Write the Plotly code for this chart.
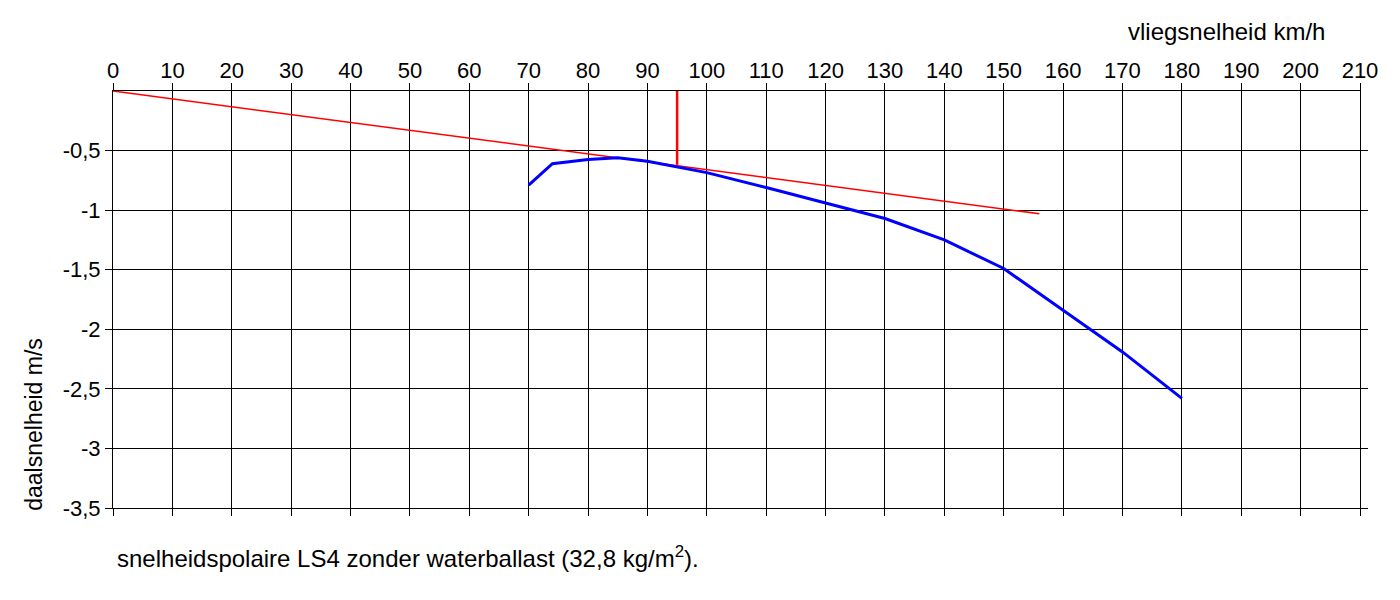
import plotly.graph_objects as go

# snelheidspolaire LS4 (zonder waterballast)
snelheid = [70, 74, 80, 85, 90, 100, 110, 120, 125, 130, 140, 150, 160, 170, 180]
daal = [-0.79, -0.61, -0.575, -0.56, -0.59, -0.685, -0.81, -0.94, -1.01, -1.07,
        -1.25, -1.49, -1.84, -2.19, -2.58]

# raaklijn vanuit de oorsprong
raak_x = [0, 156]
raak_y = [0, -1.03]

# beste glijsnelheid
best_x = [95, 95]
best_y = [0, -0.62]

x_ticks = list(range(0, 211, 10))
y_ticks = [-0.5, -1, -1.5, -2, -2.5, -3, -3.5]
y_labels = ['-0,5', '-1', '-1,5', '-2', '-2,5', '-3', '-3,5']

font = 'Liberation Sans'

fig = go.Figure()
fig.add_trace(go.Scatter(x=raak_x, y=raak_y, mode='lines',
                         line=dict(color='#ff0000', width=1.5)))
fig.add_trace(go.Scatter(x=best_x, y=best_y, mode='lines',
                         line=dict(color='#ff0000', width=2.5)))
fig.add_trace(go.Scatter(x=snelheid, y=daal, mode='lines',
                         line=dict(color='#0000ff', width=3)))

# de pagina heeft 8px body-marge, daarom marges iets kleiner
fig.update_layout(
    width=1400, height=600,
    margin=dict(l=105, r=48, t=83, b=100),
    paper_bgcolor='white', plot_bgcolor='white',
    showlegend=False,
    font=dict(family=font, size=22, color='black'),
    xaxis=dict(side='top', range=[0, 210], tickvals=x_ticks,
               showgrid=True, gridcolor='black', gridwidth=1,
               showline=True, linecolor='black', linewidth=1, mirror='ticks',
               ticks='outside', ticklen=7, tickcolor='black',
               ticklabelstandoff=-4,
               zeroline=False, tickfont=dict(size=22)),
    yaxis=dict(range=[-3.5, 0], tickvals=y_ticks, ticktext=y_labels,
               showgrid=True, gridcolor='black', gridwidth=1,
               showline=True, linecolor='black', linewidth=1, mirror='ticks',
               ticks='outside', ticklen=7, tickcolor='black',
               zeroline=False, tickfont=dict(size=22)),
)

fig.add_annotation(text='vliegsnelheid km/h', xref='paper', yref='paper',
                   x=0.893, y=1.1435, showarrow=False, xanchor='center',
                   yanchor='middle', font=dict(size=24))
fig.add_annotation(text='daalsnelheid m/s', xref='paper', yref='paper',
                   x=-0.064, y=0.2, showarrow=False, textangle=-90,
                   xanchor='center', yanchor='middle', font=dict(size=23))
fig.add_annotation(text='snelheidspolaire LS4 zonder waterballast (32,8 kg/m<sup>2</sup>).',
                   xref='paper', yref='paper', x=0.0016, y=-0.117,
                   showarrow=False, xanchor='left', yanchor='middle',
                   font=dict(size=24))

fig.write_html("out.html")
